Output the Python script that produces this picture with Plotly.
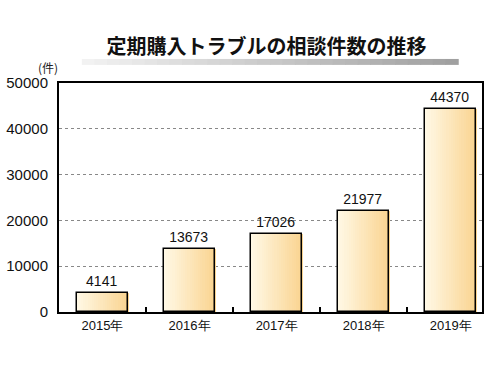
import plotly.graph_objects as go

categories = ["2015年", "2016年", "2017年", "2018年", "2019年"]
values = [4141, 13673, 17026, 21977, 44370]
y_ticks = [0, 10000, 20000, 30000, 40000, 50000]
title_text = "定期購入トラブルの相談件数の推移"
unit_text = "(件)"

fig = go.Figure()

# gradient bars built from thin slices
N = 24
W = 0.59
c0 = (255, 248, 228)
c1 = (250, 212, 145)
for i in range(N):
    t = i / (N - 1)
    col = "rgb(%d,%d,%d)" % tuple(round(a + (b - a) * t) for a, b in zip(c0, c1))
    fig.add_trace(go.Bar(
        x=categories, y=values, width=W / N * 1.15, offset=-W / 2 + i * W / N,
        marker=dict(color=col, line=dict(width=0)), hoverinfo="skip", showlegend=False,
    ))

fig.add_trace(go.Bar(
    x=categories, y=values, width=W, offset=-W / 2,
    marker=dict(color="rgba(0,0,0,0)", line=dict(color="black", width=1.5)),
    text=[str(v) for v in values], textposition="outside", cliponaxis=False,
    textfont=dict(family="Liberation Sans, Arial", size=14, color="#111"),
    showlegend=False,
))

# title underline gradient
shapes = []
M = 30
x_start, x_end = 0.054, 0.943
for i in range(M):
    t = i / (M - 1)
    g = round(242 - 82 * t)
    xa = x_start + (x_end - x_start) * i / M
    xb = x_start + (x_end - x_start) * (i + 1) / M
    shapes.append(dict(type="rect", xref="paper", yref="paper",
                       x0=xa, x1=xb + 0.002, y0=1.079, y1=1.105,
                       fillcolor="rgb(%d,%d,%d)" % (g, g, g), line=dict(width=0), layer="below"))

fig.update_layout(
    width=500, height=375,
    margin=dict(l=59, r=18, t=83, b=63, autoexpand=False),
    paper_bgcolor="white", plot_bgcolor="white",
    barmode="overlay", bargap=0,
    shapes=shapes,
    title=dict(text="<b>" + title_text + "</b>", x=0.533, xanchor="center", y=0.875, yanchor="middle",
               font=dict(family="Noto Sans CJK JP", size=20, color="#111")),
    annotations=[dict(text=unit_text, xref="paper", yref="paper", x=-0.026, y=1.066, xanchor="center",
                      yanchor="middle", showarrow=False,
                      font=dict(family="Noto Sans CJK JP", size=12, color="#222"))],
    xaxis=dict(type="category", range=[-0.5, 4.36], showline=True, linecolor="black", linewidth=2,
               mirror=True, ticks="inside", tickson="boundaries", ticklen=5, tickwidth=2,
               tickcolor="black", showgrid=False, automargin=False,
               tickfont=dict(family="Liberation Sans, Arial", size=13, color="#111")),
    yaxis=dict(range=[0, 50000], tickvals=y_ticks, ticktext=[str(v) for v in y_ticks],
               showline=True, linecolor="black", linewidth=2, mirror=True,
               showgrid=True, gridcolor="#888", griddash="dot", gridwidth=1,
               zeroline=False, ticks="", ticklabelstandoff=6, automargin=False,
               tickfont=dict(family="Liberation Sans, Arial", size=15, color="#111")),
)

fig.write_html("out.html", config={"displayModeBar": False},
               post_script="document.body.style.margin='0';")
